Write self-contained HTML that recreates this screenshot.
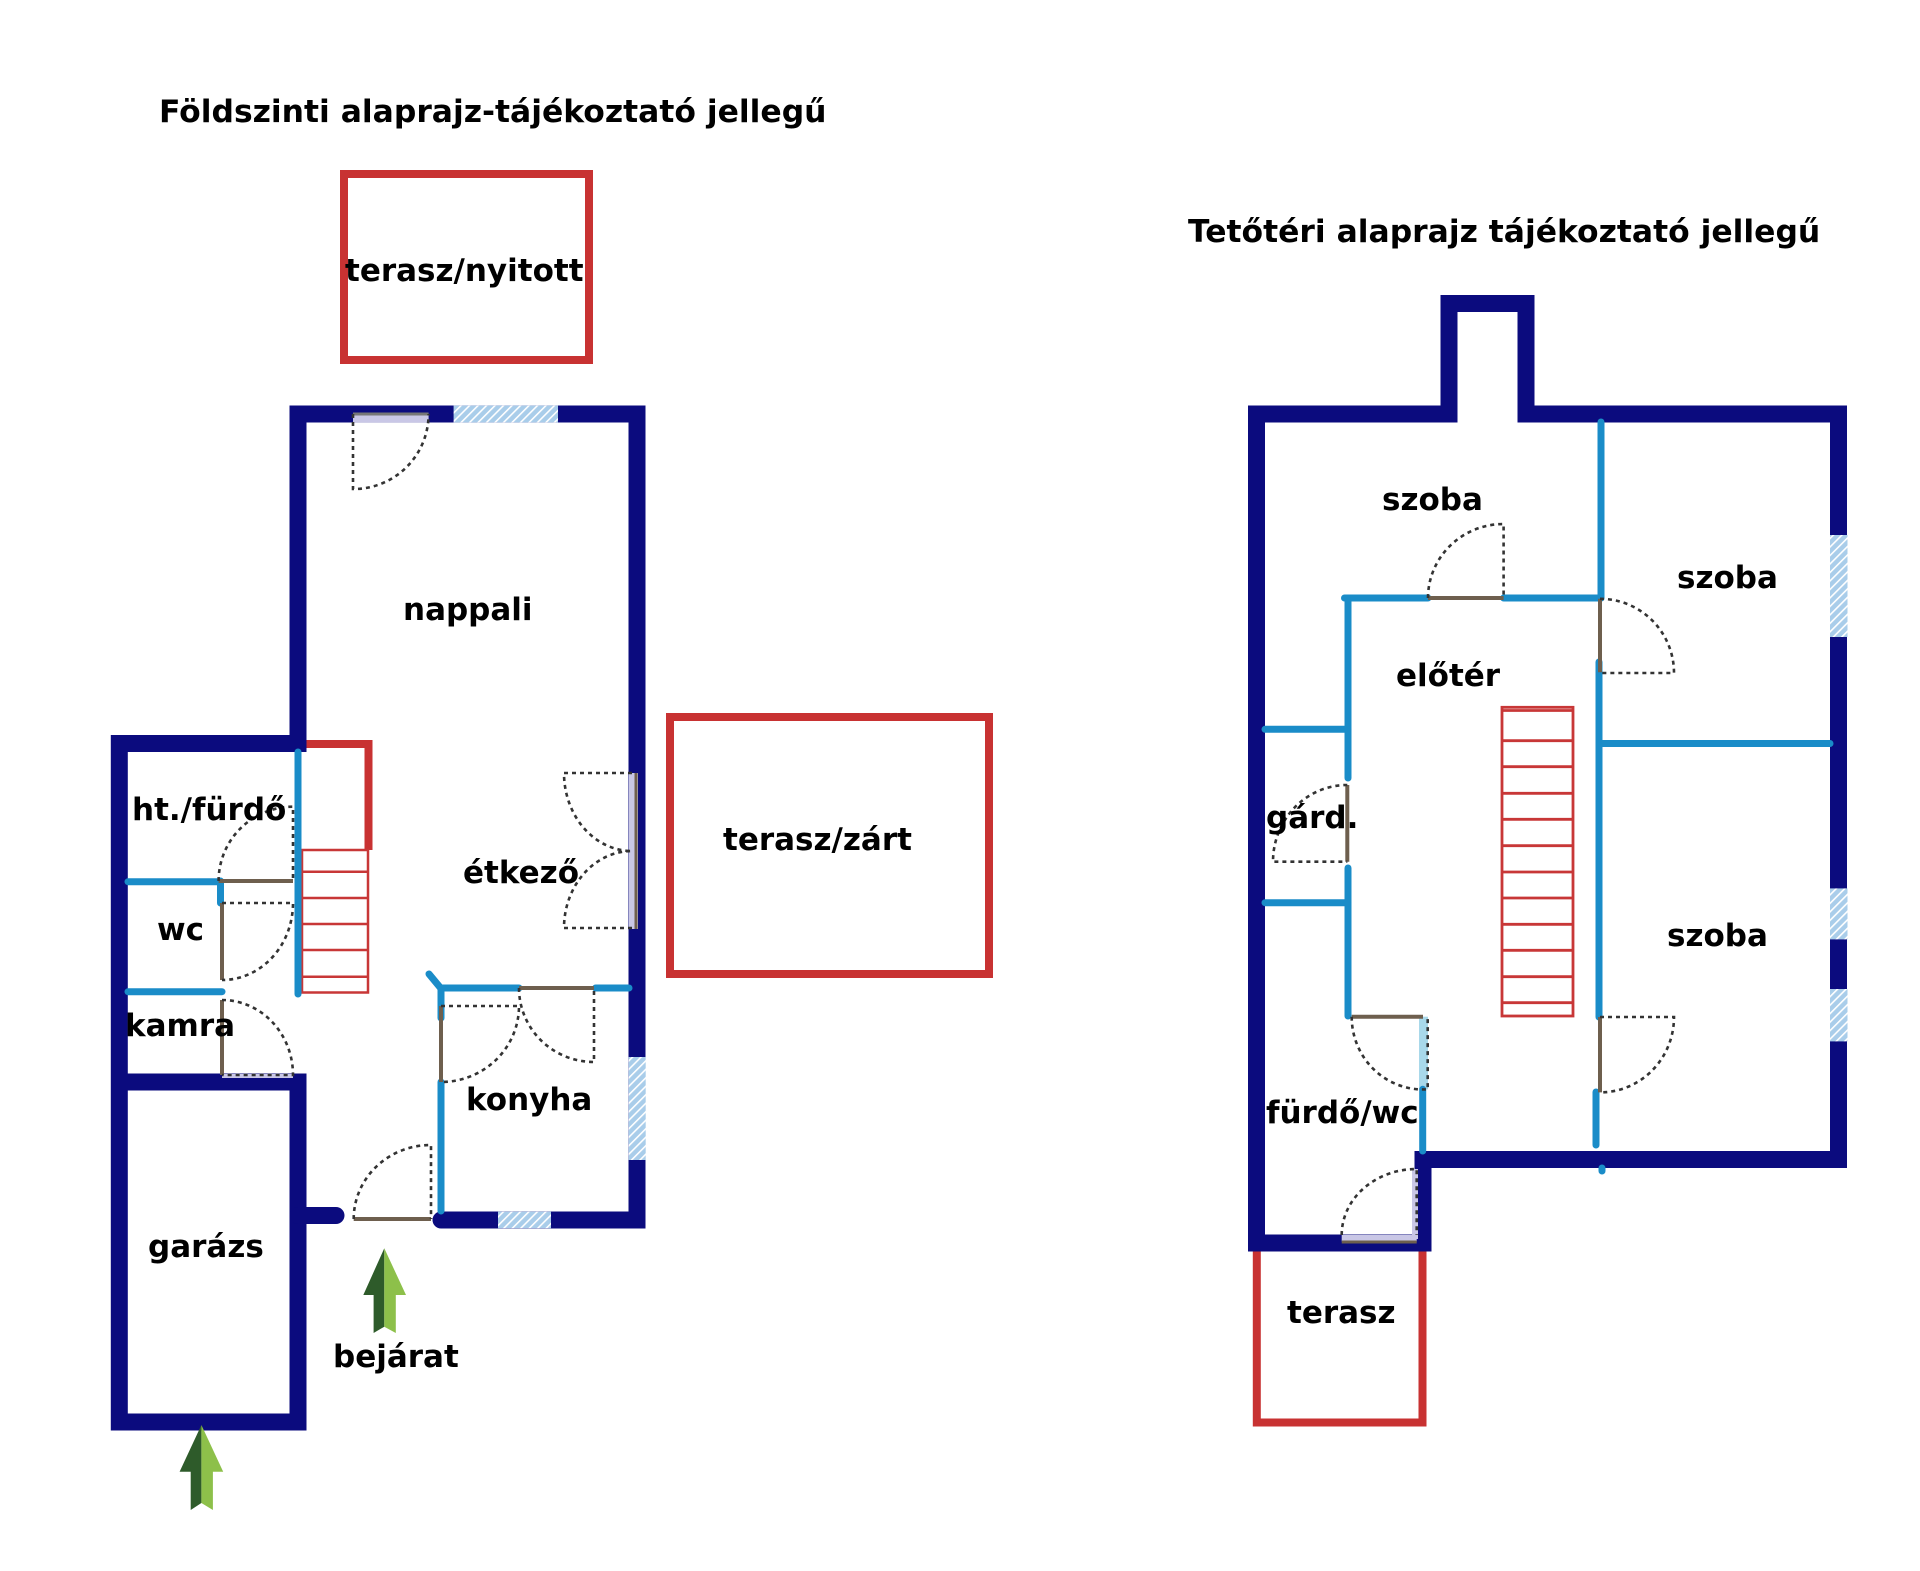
<!DOCTYPE html>
<html>
<head>
<meta charset="utf-8">
<style>
html,body{margin:0;padding:0;background:#fff;}
svg{display:block;}
text{font-family:"DejaVu Sans","Liberation Sans",sans-serif;font-weight:bold;font-size:31px;fill:#000;}
text.title{font-size:31.4px;}
</style>
</head>
<body>
<svg width="1920" height="1571" viewBox="0 0 1920 1571" xmlns="http://www.w3.org/2000/svg">
<defs>
<pattern id="hatch" patternUnits="userSpaceOnUse" width="6" height="6" patternTransform="rotate(45)">
<rect width="6" height="6" fill="#a9cdea"/>
<rect width="1.6" height="6" fill="#ffffff"/>
</pattern>
</defs>
<rect width="1920" height="1571" fill="#fff"/>

<!-- Titles -->
<text class="title" x="159" y="122">Földszinti alaprajz-tájékoztató jellegű</text>
<text class="title" x="1188" y="242">Tetőtéri alaprajz tájékoztató jellegű</text>

<!-- ================= GROUND FLOOR ================= -->
<rect x="344" y="174" width="245" height="186" fill="none" stroke="#c83232" stroke-width="8"/>
<rect x="670" y="717" width="319" height="257" fill="none" stroke="#c83232" stroke-width="8"/>
<polyline points="306,744 368.5,744 368.5,850" fill="none" stroke="#c83232" stroke-width="8"/>

<g stroke="#c83737" stroke-width="2.5" fill="none">
<rect x="302" y="850" width="66" height="142.5"/>
<line x1="302" y1="871.7" x2="368" y2="871.7"/>
<line x1="302" y1="898" x2="368" y2="898"/>
<line x1="302" y1="924" x2="368" y2="924"/>
<line x1="302" y1="950" x2="368" y2="950"/>
<line x1="302" y1="976.7" x2="368" y2="976.7"/>
</g>

<path d="M441,1220 L637,1220 L637,414 L298,414 L298,743.5 L119.3,743.5 L119.3,1422 L298,1422 L298,1082 L119.3,1082" fill="none" stroke="#0b0b7e" stroke-width="17" stroke-linejoin="miter" stroke-linecap="round"/>
<line x1="298" y1="1215.5" x2="336" y2="1215.5" stroke="#0b0b7e" stroke-width="17" stroke-linecap="round"/>

<rect x="453.6" y="405.6" width="104.4" height="16.8" fill="url(#hatch)"/>
<rect x="628.7" y="1057" width="17" height="103" fill="url(#hatch)"/>
<rect x="498" y="1211.7" width="53" height="16.5" fill="url(#hatch)"/>

<rect x="353" y="414" width="75.6" height="8.4" fill="#c9c7e6"/>
<line x1="353" y1="414" x2="428.6" y2="414" stroke="#777" stroke-width="3"/>
<rect x="629" y="773" width="9" height="156" fill="#c9c7e6"/>
<line x1="636" y1="773" x2="636" y2="929" stroke="#6e5f4e" stroke-width="3"/>
<rect x="222" y="1074" width="71" height="4" fill="#c9c7e6"/>

<g stroke="#1a8cc8" stroke-width="7" stroke-linecap="round" fill="none">
<line x1="298" y1="752" x2="298" y2="994"/>
<line x1="128" y1="881.7" x2="218.6" y2="881.7"/>
<line x1="220.5" y1="881" x2="220.5" y2="903"/>
<line x1="128" y1="991.7" x2="222" y2="991.7"/>
<line x1="440.6" y1="988" x2="519" y2="988"/>
<line x1="595.6" y1="988" x2="629" y2="988"/>
<line x1="429" y1="974" x2="440.6" y2="988"/>
<line x1="441" y1="988" x2="441" y2="1018"/>
<line x1="441" y1="1082" x2="441" y2="1211"/>
</g>

<g stroke="#6e5f4e" stroke-width="4" fill="none">
<line x1="218.6" y1="881" x2="293" y2="881"/>
<line x1="222" y1="903" x2="222" y2="980"/>
<line x1="222" y1="1000" x2="222" y2="1075"/>
<line x1="519" y1="988" x2="594" y2="988"/>
<line x1="441" y1="1006" x2="441" y2="1082"/>
<line x1="353.7" y1="1219" x2="431" y2="1219"/>
</g>

<g stroke="#333" stroke-width="2.6" stroke-dasharray="4 4" fill="none">
<path d="M353,414 L353,489 A75,75 0 0 0 428.6,414"/>
<path d="M218.6,881 A74.4,74.3 0 0 1 293,806.7 L293,881"/>
<path d="M222,903 L293,903 A71,77 0 0 1 222,980"/>
<path d="M222,1000 A71,75 0 0 1 293,1075 L222,1075"/>
<path d="M632,773 L564,773 A68,78 0 0 0 632,851"/>
<path d="M632,928 L564,928 A68,77 0 0 1 632,851"/>
<path d="M519,988 A75,74 0 0 0 594,1062 L594,988"/>
<path d="M441,1006 L519,1006 A78,76 0 0 1 441,1082"/>
<path d="M353.7,1219 A77,74 0 0 1 431,1145 L431,1219"/>
</g>

<polygon points="384.3,1248.3 363.3,1295 373.6,1295 373.6,1333 384.3,1326.7" fill="#2e5b2a"/>
<polygon points="384.3,1248.3 406,1295 395.8,1295 395.8,1333 384.3,1326.7" fill="#8dc04a"/>
<polygon points="201.4,1425 179.6,1471.7 190.7,1471.7 190.7,1510 201.4,1503" fill="#2e5b2a"/>
<polygon points="201.4,1425 223.2,1471.7 212.9,1471.7 212.9,1510 201.4,1503" fill="#8dc04a"/>

<text x="345" y="281">terasz/nyitott</text>
<text x="403" y="620">nappali</text>
<text x="723" y="850">terasz/zárt</text>
<text x="132" y="820">ht./fürdő</text>
<text x="157" y="940">wc</text>
<text x="463" y="883">étkező</text>
<text x="125" y="1036">kamra</text>
<text x="466" y="1110">konyha</text>
<text x="148" y="1257">garázs</text>
<text x="333" y="1367">bejárat</text>

<!-- ================= UPPER FLOOR ================= -->
<polyline points="1256.8,1245 1256.8,1422.5 1422.5,1422.5 1422.5,1245" fill="none" stroke="#c83232" stroke-width="8"/>

<g stroke="#c83737" stroke-width="2.8" fill="none">
<rect x="1502" y="707.3" width="71" height="308.7"/>
<line x1="1502" y1="710.5" x2="1573" y2="710.5"/>
<line x1="1502" y1="740.7" x2="1573" y2="740.7"/>
<line x1="1502" y1="766.7" x2="1573" y2="766.7"/>
<line x1="1502" y1="793.3" x2="1573" y2="793.3"/>
<line x1="1502" y1="819.3" x2="1573" y2="819.3"/>
<line x1="1502" y1="845.7" x2="1573" y2="845.7"/>
<line x1="1502" y1="872" x2="1573" y2="872"/>
<line x1="1502" y1="898" x2="1573" y2="898"/>
<line x1="1502" y1="924.3" x2="1573" y2="924.3"/>
<line x1="1502" y1="950.3" x2="1573" y2="950.3"/>
<line x1="1502" y1="976.7" x2="1573" y2="976.7"/>
<line x1="1502" y1="1002.7" x2="1573" y2="1002.7"/>
</g>

<path d="M1256.5,1243 L1256.5,414 L1449,414 L1449,303.5 L1526,303.5 L1526,414 L1838.5,414 L1838.5,1159.5 L1423,1159.5 L1423,1243 Z" fill="none" stroke="#0b0b7e" stroke-width="17" stroke-linejoin="miter"/>

<rect x="1830" y="535" width="17.5" height="102" fill="url(#hatch)"/>
<rect x="1830" y="888.4" width="17.5" height="51" fill="url(#hatch)"/>
<rect x="1830" y="989" width="17.5" height="52.4" fill="url(#hatch)"/>

<rect x="1341.7" y="1235" width="75" height="6.5" fill="#c9c7e6"/>
<rect x="1412" y="1169" width="6" height="70" fill="#c9c7e6"/>
<line x1="1341.7" y1="1242" x2="1416.7" y2="1242" stroke="#6e5f4e" stroke-width="3"/>

<rect x="1419" y="1016.7" width="9" height="72.6" fill="#a8d8ea"/>

<g stroke="#1a8cc8" stroke-width="7" stroke-linecap="round" fill="none">
<line x1="1601" y1="422" x2="1601" y2="598"/>
<line x1="1599" y1="662" x2="1599" y2="1017"/>
<line x1="1596" y1="1092" x2="1596" y2="1145"/>
<line x1="1602" y1="1168" x2="1602" y2="1171"/>
<line x1="1344.5" y1="598" x2="1428" y2="598"/>
<line x1="1503.6" y1="598" x2="1601" y2="598"/>
<line x1="1348" y1="598" x2="1348" y2="778"/>
<line x1="1348" y1="868" x2="1348" y2="1016"/>
<line x1="1265" y1="729.3" x2="1348" y2="729.3"/>
<line x1="1265" y1="902.7" x2="1348" y2="902.7"/>
<line x1="1600" y1="743.5" x2="1830" y2="743.5"/>
<line x1="1422.7" y1="1089.3" x2="1422.7" y2="1151"/>
</g>

<g stroke="#6e5f4e" stroke-width="4" fill="none">
<line x1="1428" y1="598" x2="1503.6" y2="598"/>
<line x1="1600" y1="598.8" x2="1600" y2="672.2"/>
<line x1="1347.3" y1="785" x2="1347.3" y2="861.7"/>
<line x1="1351.7" y1="1016.7" x2="1423" y2="1016.7"/>
<line x1="1600" y1="1017" x2="1600" y2="1092.4"/>
</g>

<g stroke="#333" stroke-width="2.6" stroke-dasharray="4 4" fill="none">
<path d="M1428,598 A75.6,74 0 0 1 1503.6,524 L1503.6,598"/>
<path d="M1600,598.8 A74,74.2 0 0 1 1674,673 L1600,673"/>
<path d="M1347.3,785 A74,76.7 0 0 0 1273,861.7 L1347.3,861.7"/>
<path d="M1351.7,1016.7 A71.3,72.6 0 0 0 1427.7,1089.3 L1427.7,1016.7"/>
<path d="M1600,1017 L1674,1017 A74,75.4 0 0 1 1600,1092.4"/>
<path d="M1341.7,1235 A75,66 0 0 1 1416.7,1169 L1416.7,1235"/>
</g>

<text x="1382" y="510">szoba</text>
<text x="1677" y="588">szoba</text>
<text x="1396" y="686">előtér</text>
<text x="1266" y="828">gárd.</text>
<text x="1667" y="946">szoba</text>
<text x="1266" y="1123">fürdő/wc</text>
<text x="1287" y="1323">terasz</text>
</svg>
</body>
</html>
